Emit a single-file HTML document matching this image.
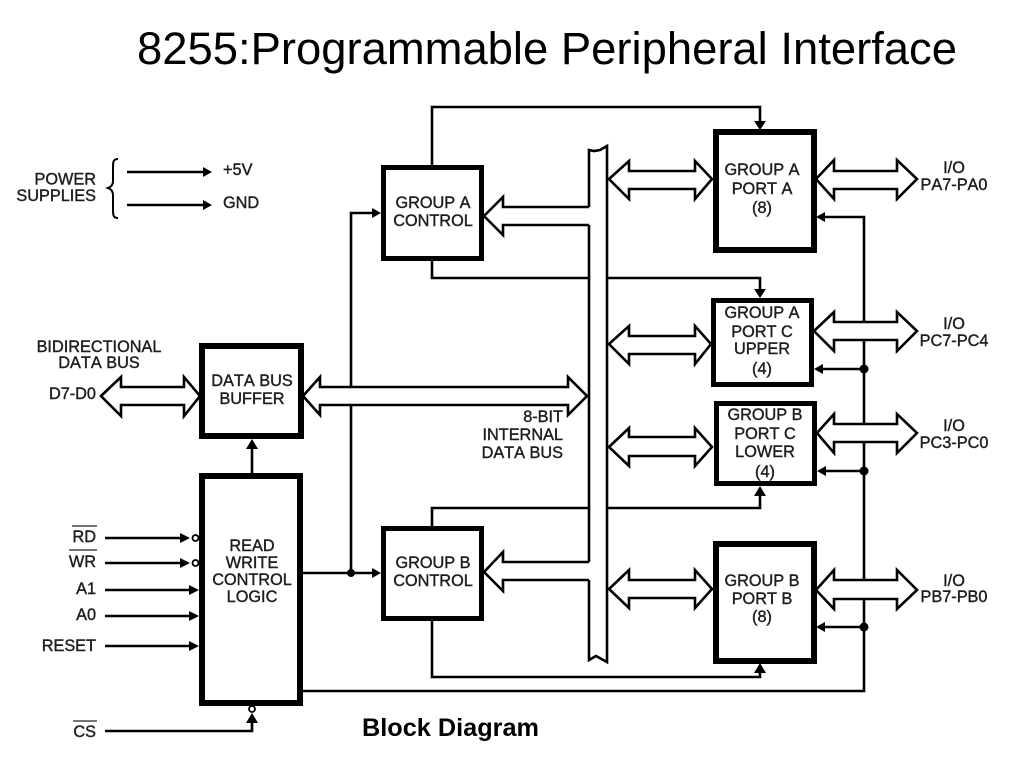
<!DOCTYPE html>
<html><head><meta charset="utf-8"><style>
html,body{margin:0;padding:0;background:#fff;width:1024px;height:768px;overflow:hidden}
svg{display:block}
.d text{font-family:"Liberation Sans",sans-serif;font-size:16.3px;fill:#1e1e1e;stroke:none;font-kerning:none}
.n{stroke:#1e1e1e !important;stroke-width:.4px}
.m{text-anchor:middle}.e{text-anchor:end}
</style></head><body>
<svg width="1024" height="768" viewBox="0 0 1024 768" xmlns="http://www.w3.org/2000/svg">
<defs><filter id="b" x="-5%" y="-5%" width="110%" height="110%"><feGaussianBlur stdDeviation="0.35"/></filter></defs>
<text x="137" y="64" font-family="'Liberation Sans',sans-serif" font-size="45" fill="#000" textLength="820" lengthAdjust="spacingAndGlyphs">8255:Programmable Peripheral Interface</text>
<text x="362" y="736" font-family="'Liberation Sans',sans-serif" font-size="25" font-weight="bold" fill="#000" textLength="177" lengthAdjust="spacingAndGlyphs">Block Diagram</text>
<g filter="url(#b)">
<g fill="none" stroke="#000" stroke-width="2.6">
<!-- power -->
<path d="M127 172H206M127 205H206"/>
<path d="M118 159C113 159 113 162 113 168V181C113 185 111 187 108 188C111 189 113 191 113 195V209C113 215 113 218 118 218" stroke-width="2"/>
<!-- inputs -->
<path d="M105 538H182M105 563H182M105 590H190M105 616H190M105 646H190M105 731H252V720"/>
<circle cx="195.500" cy="538" r="3" fill="#fff" stroke-width="1.800"/>
<circle cx="195.500" cy="563" r="3" fill="#fff" stroke-width="1.800"/>
<circle cx="252" cy="709" r="3" fill="#fff" stroke-width="1.800"/>
<path d="M252 473V446"/>
<!-- control lines -->
<path d="M303 573H375M351 573V405M351 387V213H375"/>
<path d="M432 165V107H760V123"/>
<path d="M432 261V278H589M608 278H760V292"/>
<path d="M432 526V508H589M608 508H760V492"/>
<path d="M432 621V677H760V669"/>
<path d="M303 691H864V599M864 580V442M864 424V340M864 322V217H824"/>
<path d="M864 369H822M864 471H824M864 627H824"/>
<!-- bus -->
<path d="M589 207V150L594 151L600 150L607 146V662L596 656L589 660V580M589 562V225"/>
<!-- hollow arrows -->
<path d="M101 396L121 377V387H184V377L200 396L184 416V405H121V416Z"/>
<path d="M303 396L320 377V387H568V377L587 396L568 415V405H320V415Z" fill="#fff"/>
<path d="M589 207H503V197L484 216L503 235V225H589" fill="#fff"/>
<path d="M589 562H503V552L484 572L503 591V580H589" fill="#fff"/>
<path d="M609 179L629 161V171H695V161L712 179L695 199V189H629V199Z" fill="#fff"/>
<path d="M609 344L629 326V336H695V326L711 344L695 364V354H629V364Z" fill="#fff"/>
<path d="M609 447L629 428V437H695V428L712 447L695 466V456H629V466Z" fill="#fff"/>
<path d="M609 589L629 570V580H695V570L712 589L695 608V598H629V608Z" fill="#fff"/>
<path d="M816 179L834 160V171H897V160L917 179L897 199V189H834V199Z"/>
<path d="M814 331L834 312V322H897V312L917 331L897 351V340H834V351Z"/>
<path d="M817 433L834 414V424H897V414L917 433L897 453V442H834V453Z"/>
<path d="M816 590L834 570V580H897V570L917 590L897 609V599H834V609Z"/>
<!-- blocks -->
<g stroke-width="6">
<rect x="202" y="346" width="99" height="90" fill="#fff"/>
<rect x="202" y="476" width="98" height="227" stroke-width="6" fill="#fff"/>
<rect x="716" y="132" width="98" height="118"/>
<rect x="716" y="544" width="98" height="117"/>
</g>
<g stroke-width="5">
<rect x="383.500" y="167.500" width="98" height="91"/>
<rect x="383.500" y="528.500" width="98" height="90"/>
<rect x="713.500" y="300.500" width="98" height="84"/>
<rect x="716.500" y="403.500" width="98" height="80"/>
</g>
</g>
<!-- solid heads and dots -->
<g fill="#000">
<path d="M212 172L203 167V177ZM212 205L203 200V210Z"/>
<path d="M190 538L180 533V543ZM190 563L180 558V568ZM199 590L189 585V595ZM199 616L189 611V621ZM199 646L189 641V651Z"/>
<path d="M252 713L246 723H258ZM252 439L246 449H258Z"/>
<path d="M381 213L372 208V218ZM381 573L372 568V578Z"/>
<path d="M760 130L754 121H766ZM760 298L754 289H766ZM760 486L754 496H766ZM760 663L754 673H766Z"/>
<path d="M816 217L825 212V222ZM814 369L823 364V374ZM817 471L826 466V476ZM816 627L825 622V632Z"/>
<circle cx="351" cy="573" r="4"/>
<circle cx="864" cy="369" r="4.500"/>
<circle cx="864" cy="471" r="4.500"/>
<circle cx="864" cy="627" r="4.500"/>
</g>
<!-- labels -->
<g class="d">
<text class="n e" x="96" y="184.500">POWER</text>
<text class="n e" x="96" y="201">SUPPLIES</text>
<text class="n" x="223" y="175">+5V</text>
<text class="n" x="223" y="208">GND</text>
<text class="n m" x="99" y="352">BIDIRECTIONAL</text>
<text class="n m" x="99" y="368">DATA BUS</text>
<text class="n e" x="96" y="399">D7-D0</text>
<text class="n m" x="252" y="386">DATA BUS</text>
<text class="n m" x="252" y="404">BUFFER</text>
<text class="n m" x="252" y="551">READ</text>
<text class="n m" x="252" y="568">WRITE</text>
<text class="n m" x="252" y="585">CONTROL</text>
<text class="n m" x="252" y="602">LOGIC</text>
<text class="n e" x="96" y="542">RD</text>
<text class="n e" x="96" y="567">WR</text>
<text class="n e" x="96" y="594">A1</text>
<text class="n e" x="96" y="620">A0</text>
<text class="n e" x="96" y="651">RESET</text>
<text class="n e" x="96" y="737">CS</text>
<text class="n m" x="433" y="208">GROUP A</text>
<text class="n m" x="433" y="226">CONTROL</text>
<text class="n m" x="433" y="568">GROUP B</text>
<text class="n m" x="433" y="586">CONTROL</text>
<text class="n e" x="563" y="422">8-BIT</text>
<text class="n e" x="563" y="440">INTERNAL</text>
<text class="n e" x="563" y="458">DATA BUS</text>
<text class="n m" x="762" y="175">GROUP A</text>
<text class="n m" x="762" y="194">PORT A</text>
<text class="n m" x="762" y="213">(8)</text>
<text class="n m" x="762" y="318">GROUP A</text>
<text class="n m" x="762" y="337">PORT C</text>
<text class="n m" x="762" y="354">UPPER</text>
<text class="n m" x="762" y="374">(4)</text>
<text class="n m" x="765" y="420">GROUP B</text>
<text class="n m" x="765" y="439">PORT C</text>
<text class="n m" x="765" y="457">LOWER</text>
<text class="n m" x="765" y="477">(4)</text>
<text class="n m" x="762" y="586">GROUP B</text>
<text class="n m" x="762" y="604">PORT B</text>
<text class="n m" x="762" y="622">(8)</text>
<text class="n m" x="954" y="173">I/O</text>
<text class="n m" x="954" y="190">PA7-PA0</text>
<text class="n m" x="954" y="329">I/O</text>
<text class="n m" x="954" y="346">PC7-PC4</text>
<text class="n m" x="954" y="431">I/O</text>
<text class="n m" x="954" y="448">PC3-PC0</text>
<text class="n m" x="954" y="586">I/O</text>
<text class="n m" x="954" y="602">PB7-PB0</text>
</g>
<g stroke="#222" stroke-width="1.300" fill="none">
<path d="M72 526H97M69 550H97M73 721H97"/>
</g>
</g>
</svg>
</body></html>
